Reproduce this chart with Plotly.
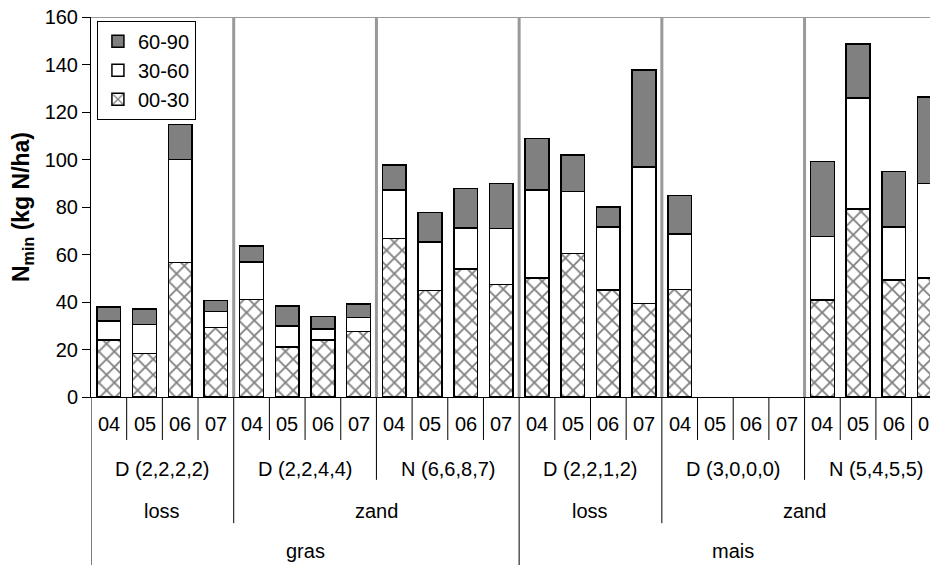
import plotly.graph_objects as go

# ---- data ----
years = ["04", "05", "06", "07"] * 6
groups = ["D (2,2,2,2)", "D (2,2,4,4)", "N (6,6,8,7)", "D (2,2,1,2)", "D (3,0,0,0)", "N (5,4,5,5)"]
group_sizes = [4, 4, 4, 4, 4, 4]
soils = ["loss", "zand", "loss", "zand"]
soil_sizes = [4, 8, 4, 8]
crops = ["gras", "mais"]
crop_sizes = [12, 12]

n00_30 = [24, 18.4, 56.6, 29.2, 41, 21.1, 24, 27.5, 66.7, 44.8, 53.8, 47.4,
          50.2, 60.4, 45.1, 39.3, 45.2, None, None, None, 40.8, 79.2, 49.3, 50.1]
n30_60 = [8, 12.2, 43.4, 6.9, 15.8, 8.8, 4.6, 6, 20.5, 20.5, 17.4, 23.5,
          37, 26.2, 26.5, 57.5, 23.4, None, None, None, 26.8, 46.7, 22.3, 39.9]
n60_90 = [6, 6.4, 14.8, 4.5, 6.8, 8.4, 5.2, 5.7, 10.5, 12.3, 16.5, 19.1,
          21.6, 15.2, 8.3, 40.9, 16.2, None, None, None, 31.5, 22.7, 23.3, 36.4]

series_names = ["00-30", "30-60", "60-90"]

FONT = "Arial, Liberation Sans, sans-serif"
x = list(range(len(years)))

fig = go.Figure()
fig.add_trace(go.Bar(
    x=x, y=n00_30, name=series_names[0], width=0.665,
    marker=dict(color="white", line=dict(color="black", width=1.5),
                pattern=dict(shape="x", fgcolor="black", bgcolor="white", size=11, solidity=0.3)),
))
fig.add_trace(go.Bar(
    x=x, y=n30_60, name=series_names[1], width=0.665,
    marker=dict(color="white", line=dict(color="black", width=1.5)),
))
fig.add_trace(go.Bar(
    x=x, y=n60_90, name=series_names[2], width=0.665,
    marker=dict(color="#808080", line=dict(color="black", width=1.5)),
))

shapes = []
annotations = []

# top border
shapes.append(dict(type="line", xref="paper", yref="y", x0=0, x1=1, y0=160, y1=160,
                   line=dict(color="#999999", width=2), layer="below"))

# gray group separators inside the plot
b = 0
for s in group_sizes[:-1]:
    b += s
    shapes.append(dict(type="line", xref="x", yref="y", x0=b - 0.5, x1=b - 0.5, y0=0, y1=160,
                       line=dict(color="#999999", width=3), layer="below"))

# separator lines below axis
Y_YEAR, Y_GROUP, Y_SOIL, Y_CROP = -0.113, -0.218, -0.332, -0.46
def bounds(sizes):
    out, acc = set(), 0
    for s in sizes:
        acc += s
        out.add(acc)
    return out
group_bounds = bounds(group_sizes)
soil_bounds = bounds(soil_sizes)
crop_bounds = bounds(crop_sizes)

for k in range(0, len(years)):
    if k == 0 or k in crop_bounds:
        y1 = Y_CROP
    elif k in soil_bounds:
        y1 = Y_SOIL
    elif k in group_bounds:
        y1 = Y_GROUP
    else:
        y1 = Y_YEAR
    shapes.append(dict(type="line", xref="x", yref="paper", x0=k - 0.5, x1=k - 0.5, y0=0, y1=y1,
                       line=dict(color="black", width=1)))

# labels
def lab(xv, yv, t):
    annotations.append(dict(x=xv, y=yv, xref="x", yref="paper", text=t, showarrow=False,
                            font=dict(size=20, color="black", family=FONT), yanchor="middle"))

for i, yr in enumerate(years):
    lab(i, -0.071, yr)
for row, sizes, yv in ((groups, group_sizes, -0.19), (soils, soil_sizes, -0.3), (crops, crop_sizes, -0.405)):
    acc = 0
    for g, s in zip(row, sizes):
        lab(acc + (s - 1) / 2, yv, g)
        acc += s

fig.update_layout(
    width=930, height=557,
    margin=dict(l=83, r=0, t=9, b=168, autoexpand=False),
    paper_bgcolor="white", plot_bgcolor="white",
    barmode="stack", bargap=0.335,
    font=dict(family=FONT, size=20, color="black"),
    showlegend=True,
    legend=dict(x=0.007, y=0.99, xanchor="left", yanchor="top", traceorder="reversed",
                bgcolor="white", bordercolor="black", borderwidth=1,
                font=dict(size=20, family=FONT, color="black"),
                itemwidth=30, tracegroupgap=0),
    xaxis=dict(range=[-0.5, 23.24], showticklabels=False, ticks="", showgrid=False, zeroline=False,
               showline=True, linecolor="black", linewidth=1),
    yaxis=dict(range=[0, 160], dtick=20, tick0=0, showgrid=False, zeroline=False,
               showline=True, linecolor="black", linewidth=1,
               ticks="outside", ticklen=8, tickcolor="black", tickwidth=1,
               ticklabeloverflow="allow",
               tickfont=dict(size=20, family=FONT, color="black"),
               title=dict(text="<b>N<sub>min</sub> (kg N/ha)</b>", standoff=8,
                          font=dict(size=23, family=FONT, color="black"))),
    shapes=shapes, annotations=annotations,
)

fig.write_html("out.html")
